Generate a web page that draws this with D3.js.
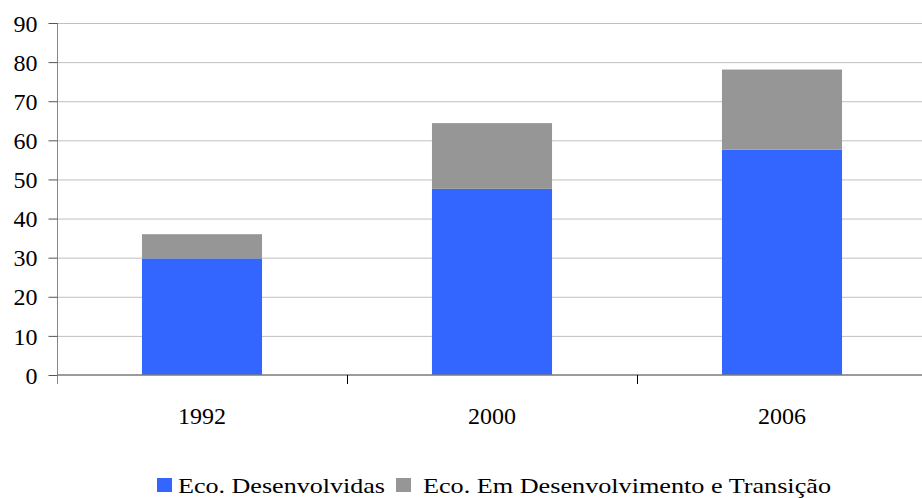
<!DOCTYPE html>
<html>
<head>
<meta charset="utf-8">
<script src="https://cdn.jsdelivr.net/npm/d3@7"></script>
<style>
html,body{margin:0;padding:0;background:#fff;}
svg{display:block;}
</style>
</head>
<body>
<svg id="chart" width="922" height="498"></svg>
<script>
const categories = ["1992", "2000", "2006"];
const developed = [29.8, 47.6, 57.6];
const developing = [6.2, 16.8, 20.5];
const seriesNames = ["Eco. Desenvolvidas", "Eco. Em Desenvolvimento e Transição"];
const seriesColors = ["#3366FF", "#969696"];
const yTicks = [0, 10, 20, 30, 40, 50, 60, 70, 80, 90];

const FONT = "'Liberation Serif', 'Times New Roman', Tinos, 'DejaVu Serif', serif";

const svg = d3.select("#chart");
const x = d3.scaleBand().domain(categories).range([57, 927]).paddingInner(0.586).paddingOuter(0.293);
const y = d3.scaleLinear().domain([0, 90]).range([375, 23]);

// gridlines
svg.append("g").selectAll("line").data(yTicks.filter(d => d > 0)).join("line")
  .attr("x1", 57).attr("x2", 922)
  .attr("y1", d => y(d) + 0.5).attr("y2", d => y(d) + 0.5)
  .attr("stroke", "#c0c0c0").attr("stroke-width", 1);

// stacked data
const rows = categories.map((c, i) => ({cat: c, a: developed[i], b: developing[i]}));
const stack = d3.stack().keys(["a", "b"])(rows);

svg.append("g").selectAll("g").data(stack).join("g")
  .attr("fill", (d, i) => seriesColors[i])
  .selectAll("rect").data(d => d).join("rect")
  .attr("x", d => x(d.data.cat))
  .attr("width", x.bandwidth())
  .attr("y", d => y(d[1]))
  .attr("height", d => y(d[0]) - y(d[1]));

// y axis
const yAxis = svg.append("g").attr("transform", "translate(57.5,0)")
  .call(d3.axisLeft(y).tickValues(yTicks).tickSize(9).tickPadding(11));
yAxis.attr("font-family", null).attr("font-size", null);
yAxis.select(".domain").attr("stroke", "#868686").attr("d", "M0,23V384");
yAxis.selectAll(".tick line").attr("stroke", "#555");
yAxis.selectAll(".tick text").style("font-family", FONT).style("font-size", "24px").attr("fill", "#000").attr("dy", "0.34em");

// x axis line
svg.append("line").attr("x1", 57).attr("x2", 922).attr("y1", 375).attr("y2", 375)
  .attr("stroke", "#7a7a7a").attr("stroke-width", 1.5);

// x boundary ticks
const boundaries = categories.slice(1).map(c => x(c) - x.step() * x.paddingInner() / 2);
svg.append("g").selectAll("line").data(boundaries).join("line")
  .attr("x1", d => Math.round(d) + 0.5).attr("x2", d => Math.round(d) + 0.5)
  .attr("y1", 375).attr("y2", 384).attr("stroke", "#000");

// x labels
svg.append("g").selectAll("text").data(categories).join("text")
  .attr("x", d => x(d) + x.bandwidth() / 2)
  .attr("y", 424)
  .attr("text-anchor", "middle")
  .style("font-family", FONT).style("font-size", "24px")
  .text(d => d);

// legend
const legendItems = [
  {name: seriesNames[0], color: seriesColors[0], sx: 157, tx: 178, len: 207},
  {name: seriesNames[1], color: seriesColors[1], sx: 396, tx: 423, len: 408}
];
const lg = svg.append("g");
legendItems.forEach(it => {
  lg.append("rect").attr("x", it.sx).attr("y", 478).attr("width", 15).attr("height", 14).attr("fill", it.color);
  lg.append("text").attr("x", it.tx).attr("y", 493)
    .style("font-family", FONT).style("font-size", "21px")
    .attr("textLength", it.len).attr("lengthAdjust", "spacingAndGlyphs").text(it.name);
});
</script>
</body>
</html>
